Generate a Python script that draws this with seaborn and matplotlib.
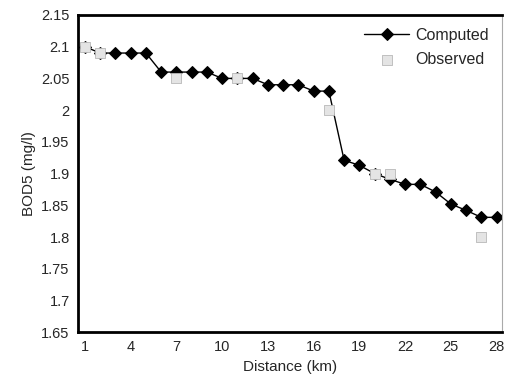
import pandas as pd
import matplotlib.pyplot as plt
import seaborn as sns

# --- Data ---
distance = list(range(1, 29))
computed = [2.10, 2.09, 2.09, 2.09, 2.09, 2.06, 2.06, 2.06, 2.06, 2.05,
            2.05, 2.05, 2.04, 2.04, 2.04, 2.03, 2.03, 1.921, 1.913, 1.90,
            1.891, 1.883, 1.883, 1.871, 1.852, 1.842, 1.831, 1.831]
obs_distance = [1, 2, 7, 11, 17, 20, 21, 27]
observed = [2.10, 2.09, 2.05, 2.05, 2.00, 1.90, 1.90, 1.80]
xtick_labels = [1, 4, 7, 10, 13, 16, 19, 22, 25, 28]

df_comp = pd.DataFrame({'Distance': distance, 'BOD5': computed})
df_obs = pd.DataFrame({'Distance': obs_distance, 'BOD5': observed})

sns.set_style("white")
plt.rcParams['font.family'] = ['Liberation Sans', 'DejaVu Sans']

fig = plt.figure(figsize=(5.07, 3.84), dpi=100)
ax = fig.add_axes([0.154, 0.135, 0.836, 0.826])

sns.lineplot(data=df_comp, x='Distance', y='BOD5', ax=ax, color='black',
             linewidth=1, marker='D', markersize=6.5, markeredgecolor='black',
             label='Computed', zorder=2)
sns.scatterplot(data=df_obs, x='Distance', y='BOD5', ax=ax, marker='s', s=55,
                color='#e4e4e4', edgecolor='#b8b8b8', linewidth=0.6,
                label='Observed', zorder=3)

ax.set_xlim(0.55, 28.35)
ax.set_ylim(1.65, 2.15)
ax.set_xticks(xtick_labels)
ax.set_xticklabels([str(t) for t in xtick_labels])
yticks = [1.65, 1.7, 1.75, 1.8, 1.85, 1.9, 1.95, 2.0, 2.05, 2.1, 2.15]
ax.set_yticks(yticks)
ax.set_yticklabels(['1.65', '1.7', '1.75', '1.8', '1.85', '1.9', '1.95', '2', '2.05', '2.1', '2.15'])
ax.tick_params(axis='both', length=0, labelsize=10.5, pad=6)
ax.set_xlabel("Distance (km)", fontsize=11)
ax.set_ylabel("BOD5 (mg/l)", fontsize=11)

for side in ['left', 'bottom', 'top']:
    ax.spines[side].set_color('black')
    ax.spines[side].set_linewidth(2)
ax.spines['right'].set_color('#aaaaaa')
ax.spines['right'].set_linewidth(0.8)

ax.legend(loc='upper right', frameon=False, fontsize=11.5, handlelength=2.8,
          borderaxespad=0.4, handletextpad=0.4, labelspacing=0.6)

plt.savefig("out.png", dpi=100)
